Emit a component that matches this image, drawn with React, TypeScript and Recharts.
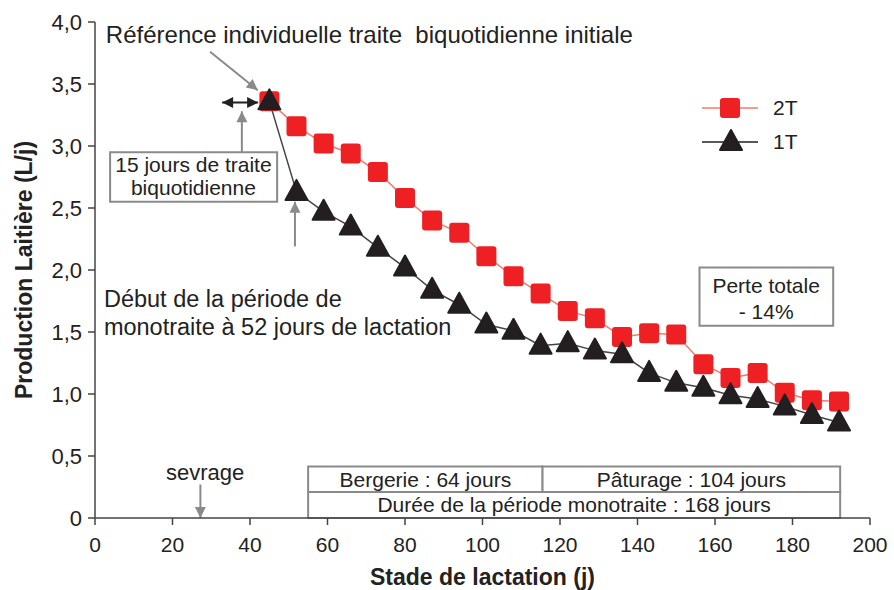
import React from 'react';
import {
  LineChart,
  Line,
  XAxis,
  YAxis,
  ReferenceArea,
  ReferenceLine,
  ReferenceDot,
  Label,
  Legend,
} from 'recharts';

// Stade de lactation (jours)
const days = [45, 52, 59, 66, 73, 80, 87, 94, 101, 108, 115, 122, 129, 136, 143, 150, 157, 164, 171, 178, 185, 192];
// Production laitière (L/j), traite biquotidienne
const prod2T = [3.36, 3.16, 3.02, 2.94, 2.79, 2.58, 2.4, 2.3, 2.11, 1.95, 1.81, 1.67, 1.61, 1.46, 1.49, 1.48, 1.24, 1.13, 1.17, 1.01, 0.95, 0.94];
// Production laitière (L/j), monotraite
const prod1T = [3.36, 2.63, 2.47, 2.35, 2.18, 2.02, 1.84, 1.72, 1.56, 1.51, 1.39, 1.41, 1.35, 1.32, 1.17, 1.09, 1.05, 0.99, 0.96, 0.9, 0.83, 0.77];

const xTicks = [0, 20, 40, 60, 80, 100, 120, 140, 160, 180, 200];
const yTicks = [0, 0.5, 1, 1.5, 2, 2.5, 3, 3.5, 4];

const data = days.map((d, i) => ({ day: d, t2: prod2T[i], t1: prod1T[i] }));

const FONT = '"Liberation Sans", Arial, Helvetica, sans-serif';
const RED = '#ee2024';
const DARK = '#231f20';
const GREY = '#8a8a8a';

const fmtY = (v: number) => (v === 0 ? '0' : v.toFixed(1).replace('.', ','));

const Square = (props: any) => {
  const { cx, cy } = props;
  if (cx == null || cy == null) return null;
  return <rect x={cx - 10} y={cy - 10} width={20} height={20} rx={3} fill={RED} />;
};

const Triangle = (props: any) => {
  const { cx, cy } = props;
  if (cx == null || cy == null) return null;
  return (
    <path
      d={`M${cx},${cy - 12} L${cx + 11},${cy + 8} L${cx - 11},${cy + 8} Z`}
      fill={DARK}
      stroke={DARK}
      strokeWidth={2}
      strokeLinejoin="round"
    />
  );
};

// line with an arrow head at its end (and optionally at its start)
const arrowShape = (color: string, both = false) => (p: any) => {
  const { x1, y1, x2, y2 } = p;
  const head = (ax: number, ay: number, bx: number, by: number) => {
    const ang = Math.atan2(by - ay, bx - ax);
    const len = 11;
    const w = 5.5;
    const px = bx - len * Math.cos(ang);
    const py = by - len * Math.sin(ang);
    return `M${bx},${by} L${px + w * Math.sin(ang)},${py - w * Math.cos(ang)} L${px - w * Math.sin(ang)},${py + w * Math.cos(ang)} Z`;
  };
  return (
    <g>
      <line x1={x1} y1={y1} x2={x2} y2={y2} stroke={color} strokeWidth={2} />
      <path d={head(x1, y1, x2, y2)} fill={color} />
      {both && <path d={head(x2, y2, x1, y1)} fill={color} />}
    </g>
  );
};

const textShape = (lines: string[], anchor: 'start' | 'middle', size = 19, gap = 28) => (p: any) => (
  <text x={p.cx} y={p.cy} textAnchor={anchor} fontFamily={FONT} fontSize={size} fill="#222">
    {lines.map((l, i) => (
      <tspan key={i} x={p.cx} dy={i === 0 ? '0.35em' : gap} style={{ whiteSpace: 'pre' }}>
        {l}
      </tspan>
    ))}
  </text>
);

const LegendContent = () => (
  <svg width={140} height={64} style={{ overflow: 'visible', display: 'block' }}>
    <line x1={0} y1={12} x2={56} y2={12} stroke="#f47a6a" strokeWidth={1.5} />
    <rect x={18} y={2} width={20} height={20} rx={3} fill={RED} />
    <text x={71} y={12} dy="0.35em" fontFamily={FONT} fontSize={21} fill="#222">2T</text>
    <line x1={0} y1={46} x2={56} y2={46} stroke={DARK} strokeWidth={1.5} />
    <path d="M29,34 L40,54 L18,54 Z" fill={DARK} stroke={DARK} strokeWidth={2} strokeLinejoin="round" />
    <text x={71} y={46} dy="0.35em" fontFamily={FONT} fontSize={21} fill="#222">1T</text>
  </svg>
);

const tableLabel = { fontFamily: FONT, fontSize: 21, fill: '#222' };

export default function App() {
  return (
    <div style={{ position: 'absolute', left: 0, top: 0, width: 894, height: 590, background: '#fff' }}>
      <LineChart width={894} height={590} data={data} margin={{ top: 22, right: 24, left: 0, bottom: 2 }}>
        <XAxis
          dataKey="day"
          type="number"
          domain={[0, 200]}
          ticks={xTicks}
          height={70}
          stroke="#444"
          strokeWidth={1.5}
          tickSize={7}
          tick={{ fill: '#222', fontSize: 21, fontFamily: FONT }}
          tickMargin={12}
        >
          <Label
            value="Stade de lactation (j)"
            position="insideBottom"
            offset={3}
            style={{ fontFamily: FONT, fontSize: 23, fontWeight: 'bold', fill: '#222' }}
          />
        </XAxis>
        <YAxis
          type="number"
          domain={[0, 4]}
          ticks={yTicks}
          tickFormatter={fmtY}
          width={95}
          stroke="#444"
          strokeWidth={1.5}
          tickSize={7}
          tick={{ fill: '#222', fontSize: 22, fontFamily: FONT }}
          tickMargin={6}
        >
          <Label
            value="Production Laitière (L/j)"
            angle={-90}
            position="insideLeft"
            offset={24}
            style={{ textAnchor: 'middle', fontFamily: FONT, fontSize: 23, fontWeight: 'bold', fill: '#222' }}
          />
        </YAxis>
        <Legend
          verticalAlign="middle"
          align="center"
          layout="vertical"
          content={LegendContent}
          wrapperStyle={{ top: 96, left: 702, width: 140, height: 64, overflow: 'visible' }}
        />

        {/* tableau des périodes */}
        <ReferenceArea x1={55} x2={115.5} y1={0.21} y2={0.415} fill="#fff" fillOpacity={1} stroke={GREY} strokeWidth={2}>
          <Label value="Bergerie : 64 jours" position="center" style={tableLabel} />
        </ReferenceArea>
        <ReferenceArea x1={115.5} x2={192.3} y1={0.21} y2={0.415} fill="#fff" fillOpacity={1} stroke={GREY} strokeWidth={2}>
          <Label value="Pâturage : 104 jours" position="center" style={tableLabel} />
        </ReferenceArea>
        <ReferenceArea x1={55} x2={192.3} y1={0} y2={0.21} fill="#fff" fillOpacity={1} stroke={GREY} strokeWidth={2}>
          <Label value="Durée de la période monotraite : 168 jours" position="center" style={tableLabel} />
        </ReferenceArea>

        {/* encadrés */}
        <ReferenceArea x1={3.9} x2={47} y1={2.55} y2={2.95} fill="#fff" fillOpacity={1} stroke={GREY} strokeWidth={2} />
        <ReferenceArea x1={156} x2={190.5} y1={1.55} y2={2.02} fill="#fff" fillOpacity={1} stroke={GREY} strokeWidth={2} />

        {/* flèches */}
        <ReferenceLine segment={[{ x: 29.7, y: 3.76 }, { x: 42, y: 3.45 }]} shape={arrowShape(GREY)} />
        <ReferenceLine segment={[{ x: 32.8, y: 3.35 }, { x: 42.1, y: 3.35 }]} shape={arrowShape(DARK, true)} />
        <ReferenceLine segment={[{ x: 37.9, y: 2.95 }, { x: 37.9, y: 3.28 }]} shape={arrowShape(GREY)} />
        <ReferenceLine segment={[{ x: 51.6, y: 2.19 }, { x: 51.6, y: 2.55 }]} shape={arrowShape(GREY)} />
        <ReferenceLine segment={[{ x: 27.2, y: 0.27 }, { x: 27.2, y: 0.0 }]} shape={arrowShape(GREY)} />

        <Line
          dataKey="t2"
          stroke="#f47a6a"
          strokeWidth={1.5}
          dot={<Square />}
          activeDot={false}
          isAnimationActive={false}
        />
        <Line
          dataKey="t1"
          stroke="#444"
          strokeWidth={1.5}
          dot={<Triangle />}
          activeDot={false}
          isAnimationActive={false}
        />

        {/* textes */}
        <ReferenceDot x={2.8} y={3.9} r={0} shape={textShape(['Référence individuelle traite  biquotidienne initiale'], 'start', 24)} />
        <ReferenceDot x={25.4} y={2.85} r={0} shape={textShape(['15 jours de traite', 'biquotidienne'], 'middle', 21, 23)} />
        <ReferenceDot x={2.3} y={1.77} r={0} shape={textShape(['Début de la période de', 'monotraite à 52 jours de lactation'], 'start', 23.5, 28)} />
        <ReferenceDot x={173.2} y={1.87} r={0} shape={textShape(['Perte totale', '- 14%'], 'middle', 21, 26)} />
        <ReferenceDot x={28.4} y={0.37} r={0} shape={textShape(['sevrage'], 'middle', 22)} />
      </LineChart>
    </div>
  );
}
